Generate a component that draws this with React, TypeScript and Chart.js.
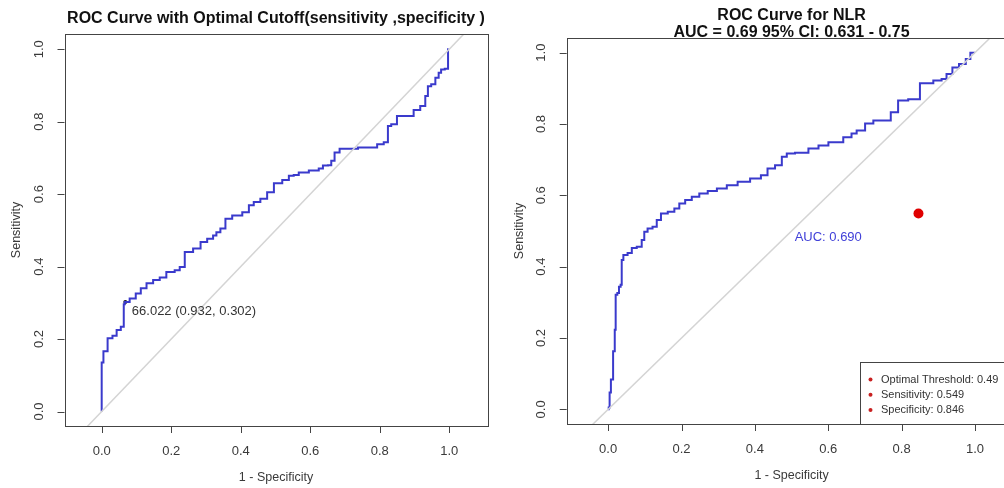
import React, { useEffect, useRef } from "react";
import { Chart, registerables } from "chart.js";

Chart.register(...registerables);

// ---------- DATA ----------
const tickValues = [0, 0.2, 0.4, 0.6, 0.8, 1.0];
const tickLabels = ["0.0", "0.2", "0.4", "0.6", "0.8", "1.0"];

// Left panel ROC (1 - specificity, sensitivity)
const leftFpr = [
  0, 0, 0.010, 0.024, 0.038, 0.048, 0.062, 0.065, 0.068, 0.093, 0.103, 0.122, 0.136, 0.160, 0.174,
  0.198, 0.222, 0.227, 0.251, 0.275, 0.294, 0.313, 0.328, 0.332, 0.351, 0.361, 0.390, 0.419,
  0.428, 0.447, 0.466, 0.486, 0.505, 0.534, 0.543, 0.562, 0.572, 0.620, 0.629, 0.644, 0.658,
  0.663, 0.677, 0.692, 0.783, 0.802, 0.821, 0.826, 0.840, 0.859, 0.888, 0.907, 0.926, 0.936,
  0.941, 0.955, 0.965, 0.974, 0.979, 0.995, 0.998,
];
const leftTpr = [
  0, 0.135, 0.166, 0.202, 0.209, 0.225, 0.234, 0.296, 0.302, 0.312, 0.326, 0.340, 0.354, 0.363, 0.370,
  0.385, 0.390, 0.399, 0.440, 0.450, 0.468, 0.477, 0.486, 0.495, 0.505, 0.532, 0.541, 0.550,
  0.569, 0.578, 0.587, 0.605, 0.630, 0.639, 0.651, 0.653, 0.660, 0.665, 0.671, 0.679, 0.680,
  0.692, 0.715, 0.725, 0.729, 0.738, 0.743, 0.788, 0.793, 0.816, 0.816, 0.832, 0.843, 0.871,
  0.898, 0.903, 0.921, 0.935, 0.944, 0.946, 1.0,
];
const leftCutoffFpr = 0.068;
const leftCutoffTpr = 0.302;
const leftCutoffLabel = "66.022 (0.932, 0.302)";
const leftTitle = "ROC Curve with Optimal Cutoff(sensitivity ,specificity )";

// Right panel ROC (1 - specificity, sensitivity)
const rightFpr = [
  0, 0.003, 0.005, 0.010, 0.017, 0.019, 0.022, 0.028, 0.031, 0.037, 0.037, 0.046, 0.060, 0.069,
  0.087, 0.096, 0.101, 0.114, 0.128, 0.137, 0.151, 0.174, 0.187, 0.201, 0.219, 0.237, 0.260,
  0.283, 0.310, 0.337, 0.369, 0.405, 0.428, 0.441, 0.469, 0.478, 0.496, 0.523, 0.569, 0.578,
  0.623, 0.659, 0.668, 0.687, 0.714, 0.732, 0.764, 0.777, 0.804, 0.832, 0.868, 0.905, 0.913,
  0.932, 0.945, 0.968, 0.982, 0.993, 1.0,
];
const rightTpr = [
  0, 0.005, 0.047, 0.084, 0.163, 0.223, 0.321, 0.326, 0.344, 0.349, 0.419, 0.433, 0.438, 0.452,
  0.456, 0.475, 0.498, 0.507, 0.512, 0.531, 0.549, 0.554, 0.563, 0.577, 0.587, 0.596, 0.605,
  0.612, 0.619, 0.628, 0.638, 0.647, 0.656, 0.675, 0.684, 0.708, 0.717, 0.719, 0.731, 0.740,
  0.749, 0.763, 0.773, 0.782, 0.801, 0.810, 0.810, 0.833, 0.866, 0.869, 0.914, 0.922, 0.926,
  0.940, 0.958, 0.968, 0.982, 1.0, 1.0,
];
const rightOptimalX = 0.846;
const rightOptimalY = 0.549;
const rightTitleLines = ["ROC Curve for NLR", "AUC = 0.69 95% CI: 0.631 - 0.75"];
const rightAucLabel = "AUC: 0.690";
const rightAucX = 0.6;
const rightAucY = 0.482;
const rightLegendLines = ["Optimal Threshold: 0.49", "Sensitivity: 0.549", "Specificity: 0.846"];

const diagonalEnds = [-0.3, 1.3];
const xAxisTitle = "1 - Specificity";
const yAxisTitle = "Sensitivity";

// ---------- HELPERS ----------
const FONT = '"Liberation Sans", Arial, Helvetica, sans-serif';
const CURVE_COLOR = "#3a3acc";

function toPoints(xs: number[], ys: number[]) {
  return xs.map((x, i) => ({ x, y: ys[i] }));
}

type PanelOpts = {
  titleLines: string[];
  titleBaselines: number[];
  extra?: (chart: any) => void;
};

function makeRPlotPlugin(p: PanelOpts) {
  return {
    id: "rplot",
    afterDraw(chart: any) {
      const ctx = chart.ctx as CanvasRenderingContext2D;
      const a = chart.chartArea;
      const xs = chart.scales.x;
      const ys = chart.scales.y;
      ctx.save();
      // box
      ctx.strokeStyle = "#444";
      ctx.lineWidth = 1;
      ctx.strokeRect(Math.round(a.left) + 0.5, Math.round(a.top) + 0.5, Math.round(a.right - a.left), Math.round(a.bottom - a.top));
      // ticks
      ctx.beginPath();
      tickValues.forEach((v) => {
        const px = Math.round(xs.getPixelForValue(v)) + 0.5;
        ctx.moveTo(px, a.bottom);
        ctx.lineTo(px, a.bottom + 7);
        const py = Math.round(ys.getPixelForValue(v)) + 0.5;
        ctx.moveTo(a.left, py);
        ctx.lineTo(a.left - 7, py);
      });
      ctx.stroke();
      // tick labels
      ctx.fillStyle = "#3a3a3a";
      ctx.font = `13px ${FONT}`;
      ctx.textAlign = "center";
      ctx.textBaseline = "middle";
      tickValues.forEach((v, i) => {
        ctx.fillText(tickLabels[i], xs.getPixelForValue(v), a.bottom + 25);
      });
      tickValues.forEach((v, i) => {
        ctx.save();
        ctx.translate(a.left - 25, ys.getPixelForValue(v));
        ctx.rotate(-Math.PI / 2);
        ctx.fillText(tickLabels[i], 0, 0);
        ctx.restore();
      });
      // axis titles
      ctx.font = `12.5px ${FONT}`;
      ctx.fillText(xAxisTitle, (a.left + a.right) / 2, a.bottom + 51.5);
      ctx.save();
      ctx.translate(a.left - 47.5, (a.top + a.bottom) / 2);
      ctx.rotate(-Math.PI / 2);
      ctx.fillText(yAxisTitle, 0, 0);
      ctx.restore();
      // main title
      ctx.fillStyle = "#111";
      ctx.font = `bold 16px ${FONT}`;
      ctx.textBaseline = "alphabetic";
      p.titleLines.forEach((t, i) => {
        ctx.fillText(t, (a.left + a.right) / 2, p.titleBaselines[i]);
      });
      if (p.extra) p.extra(chart);
      ctx.restore();
    },
  };
}

function makeChart(
  canvas: HTMLCanvasElement,
  datasets: any[],
  padding: { left: number; right: number; top: number; bottom: number },
  xr: [number, number],
  yr: [number, number],
  plugin: any
) {
  return new Chart(canvas, {
    type: "scatter",
    data: { datasets },
    options: {
      animation: false,
      responsive: false,
      devicePixelRatio: 1,
      layout: { padding },
      scales: {
        x: { type: "linear", min: xr[0], max: xr[1], display: false },
        y: { type: "linear", min: yr[0], max: yr[1], display: false },
      },
      plugins: { legend: { display: false }, tooltip: { enabled: false }, title: { display: false } },
      events: [],
    },
    plugins: [plugin],
  } as any);
}

const diagonalDataset = () => ({
  data: toPoints(diagonalEnds, diagonalEnds),
  showLine: true,
  borderColor: "#d4d4d4",
  borderWidth: 1.5,
  pointRadius: 0,
});

const curveDataset = (xs: number[], ys: number[]) => ({
  data: toPoints(xs, ys),
  showLine: true,
  stepped: "middle",
  borderColor: CURVE_COLOR,
  borderWidth: 2,
  pointRadius: 0,
});

export default function App() {
  const leftRef = useRef<HTMLCanvasElement>(null);
  const rightRef = useRef<HTMLCanvasElement>(null);

  useEffect(() => {
    const leftPlugin = makeRPlotPlugin({
      titleLines: [leftTitle],
      titleBaselines: [23],
      extra: (chart) => {
        const ctx = chart.ctx as CanvasRenderingContext2D;
        const xs = chart.scales.x;
        const ys = chart.scales.y;
        ctx.fillStyle = "#333";
        ctx.font = `13px ${FONT}`;
        ctx.textAlign = "left";
        ctx.textBaseline = "middle";
        ctx.fillText(leftCutoffLabel, xs.getPixelForValue(leftCutoffFpr) + 6.5, ys.getPixelForValue(leftCutoffTpr) + 9.5);
      },
    });
    const left = makeChart(
      leftRef.current!,
      [
        diagonalDataset(),
        curveDataset(leftFpr, leftTpr),
        {
          data: [{ x: leftCutoffFpr, y: leftCutoffTpr }],
          pointRadius: 2,
          backgroundColor: "#111",
          borderWidth: 0,
        },
      ],
      { left: 64.5, right: 14.5, top: 34, bottom: 62 },
      [-0.107, 1.11],
      [-0.04, 1.042],
      leftPlugin
    );

    const rightPlugin = makeRPlotPlugin({
      titleLines: rightTitleLines,
      titleBaselines: [20, 36.5],
      extra: (chart) => {
        const ctx = chart.ctx as CanvasRenderingContext2D;
        const a = chart.chartArea;
        const xs = chart.scales.x;
        const ys = chart.scales.y;
        // AUC text
        ctx.fillStyle = "#4040d8";
        ctx.font = `13px ${FONT}`;
        ctx.textAlign = "center";
        ctx.textBaseline = "middle";
        ctx.fillText(rightAucLabel, xs.getPixelForValue(rightAucX), ys.getPixelForValue(rightAucY));
        // legend box (bottom right inset)
        const lx = 358;
        const ly = a.bottom - 62;
        ctx.fillStyle = "#fff";
        ctx.fillRect(lx, ly, a.right - lx, a.bottom - ly);
        ctx.strokeStyle = "#444";
        ctx.lineWidth = 1;
        ctx.strokeRect(lx + 0.5, Math.round(ly) + 0.5, Math.round(a.right - lx), Math.round(a.bottom - ly));
        ctx.font = `11px ${FONT}`;
        ctx.textAlign = "left";
        rightLegendLines.forEach((t, i) => {
          const y = ly + 17.5 + i * 15.3;
          ctx.fillStyle = "#c82020";
          ctx.beginPath();
          ctx.arc(lx + 10.5, y, 2, 0, Math.PI * 2);
          ctx.fill();
          ctx.fillStyle = "#333";
          ctx.fillText(t, lx + 21, y);
        });
      },
    });
    const right = makeChart(
      rightRef.current!,
      [
        diagonalDataset(),
        curveDataset(rightFpr, rightTpr),
        {
          data: [{ x: rightOptimalX, y: rightOptimalY }],
          pointRadius: 5,
          backgroundColor: "#e00000",
          borderWidth: 0,
        },
      ],
      { left: 64.7, right: 15.6, top: 38, bottom: 64 },
      [-0.113, 1.113],
      [-0.041, 1.041],
      rightPlugin
    );

    return () => {
      left.destroy();
      right.destroy();
    };
  }, []);

  return (
    <div
      style={{
        position: "fixed",
        left: 0,
        top: 0,
        width: 1004,
        height: 488,
        overflow: "hidden",
        background: "#fff",
      }}
    >
      <canvas ref={leftRef} width={502} height={488} style={{ position: "absolute", left: 0, top: 0, width: 502, height: 488 }} />
      <canvas ref={rightRef} width={530} height={488} style={{ position: "absolute", left: 502, top: 0, width: 530, height: 488 }} />
    </div>
  );
}
